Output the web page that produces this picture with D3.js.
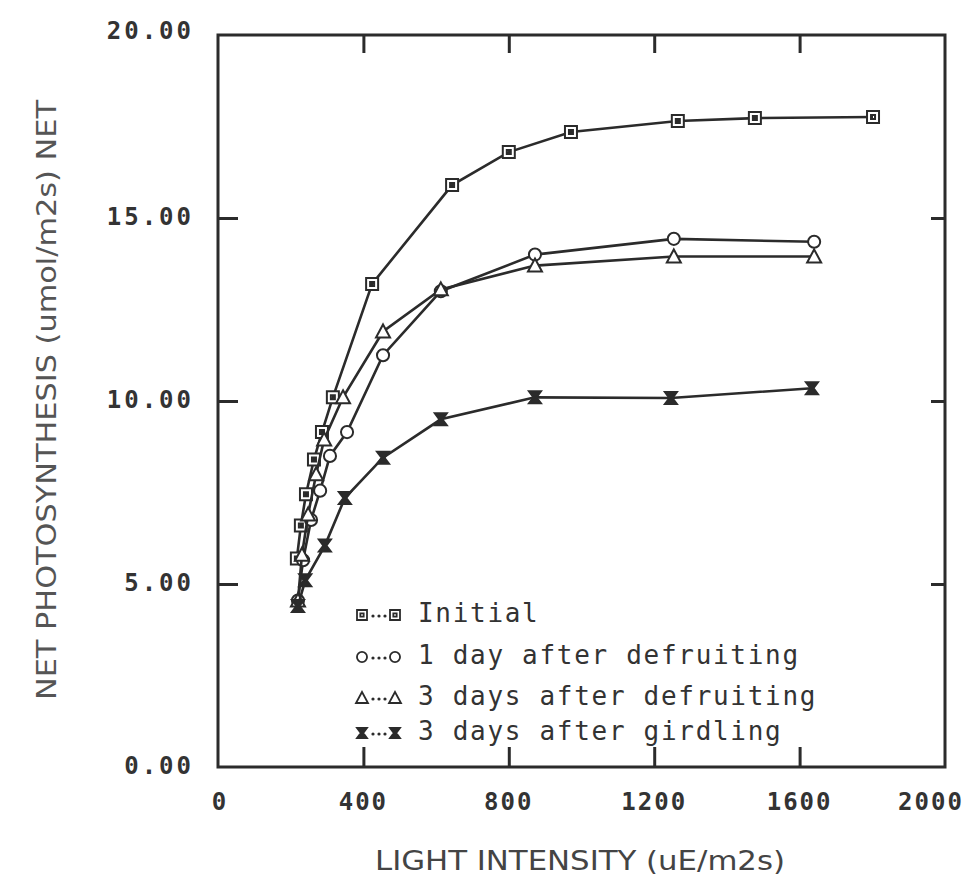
<!DOCTYPE html>
<html><head><meta charset="utf-8">
<script src="https://cdn.jsdelivr.net/npm/d3@7"></script>
<style>
body{margin:0;background:#fff;}
svg{display:block;}
</style></head>
<body>
<svg id="chart" width="967" height="888"></svg>
<script>
// ---- data ----
const seriesNames = ["Initial","1 day after defruiting","3 days after defruiting","3 days after girdling"];
const initialX = [217, 228, 242, 264, 286, 316, 424, 644, 800, 971, 1265, 1477, 1802];
const initialY = [5.7, 6.6, 7.45, 8.4, 9.15, 10.1, 13.2, 15.9, 16.8, 17.35, 17.65, 17.73, 17.76];
const day1X = [220, 234, 256, 281, 308, 355, 454, 613, 872, 1254, 1640];
const day1Y = [4.55, 5.65, 6.75, 7.55, 8.5, 9.15, 11.25, 13.0, 14.0, 14.43, 14.35];
const day3X = [220, 231, 248, 270, 292, 344, 454, 613, 872, 1254, 1640];
const day3Y = [4.55, 5.8, 6.9, 8.0, 8.95, 10.1, 11.9, 13.05, 13.7, 13.95, 13.95];
const girdX = [220, 240, 294, 349, 454, 613, 872, 1246, 1634];
const girdY = [4.4, 5.1, 6.05, 7.35, 8.45, 9.5, 10.1, 10.08, 10.35];
const xTicks = [0, 400, 800, 1200, 1600, 2000];
const yTicks = [0, 5, 10, 15, 20];
const xTickLabels = ["0", "400", "800", "1200", "1600", "2000"];
const yTickLabels = ["0.00", "5.00", "10.00", "15.00", "20.00"];
const xTitle = "LIGHT INTENSITY (uE/m2s)";
const yTitle = "NET PHOTOSYNTHESIS (umol/m2s) NET";
const markers = ["square","circle","triangle","bowtie"];

// ---- layout ----
const svg = d3.select("#chart");
const L = 218, R = 945, T = 35, B = 767;
const x = d3.scaleLinear().domain([0, 2000]).range([L, R]);
const y = d3.scaleLinear().domain([0, 20]).range([B, T]);
const ink = "#2b2b2b";

// frame
svg.append("rect").attr("x", L).attr("y", T).attr("width", R - L).attr("height", B - T)
  .attr("fill", "none").attr("stroke", ink).attr("stroke-width", 3);

// axes with inward ticks
const inner = [5, 10, 15];
const innerX = [400, 800, 1200, 1600];
const gL = svg.append("g").attr("transform", `translate(${L},0)`)
  .call(d3.axisRight(y).tickValues(inner).tickSize(20).tickFormat(""));
const gR = svg.append("g").attr("transform", `translate(${R},0)`)
  .call(d3.axisLeft(y).tickValues(inner).tickSize(14).tickFormat(""));
const gB = svg.append("g").attr("transform", `translate(0,${B})`)
  .call(d3.axisTop(x).tickValues(innerX).tickSize(20).tickFormat(""));
const gT = svg.append("g").attr("transform", `translate(0,${T})`)
  .call(d3.axisBottom(x).tickValues(innerX).tickSize(18).tickFormat(""));
[gL, gR, gB, gT].forEach(g => {
  g.select(".domain").remove();
  g.selectAll(".tick line").attr("stroke", ink).attr("stroke-width", 3);
});

// tick labels
const tickFont = "'DejaVu Sans Mono', monospace";
svg.append("g").selectAll("text").data(yTicks).join("text")
  .attr("x", 194).attr("y", d => y(d) + (d === 20 ? -3 : 0))
  .attr("text-anchor", "end").attr("dominant-baseline", "middle")
  .attr("font-family", tickFont).attr("font-weight", "bold").attr("font-size", 24)
  .attr("letter-spacing", 3)
  .attr("fill", "#333").text((d, i) => yTickLabels[i]);
svg.append("g").selectAll("text").data(xTicks).join("text")
  .attr("x", d => d === 2000 ? x(d) - 14 : x(d) + (d === 0 ? 2 : 0)).attr("y", 810)
  .attr("text-anchor", "middle")
  .attr("font-family", tickFont).attr("font-weight", "bold").attr("font-size", 24)
  .attr("letter-spacing", 2)
  .attr("fill", "#333").text((d, i) => xTickLabels[i]);

// axis titles
const titleFont = "'DejaVu Sans Condensed', 'DejaVu Sans', sans-serif";
svg.append("text").attr("x", 580).attr("y", 870).attr("text-anchor", "middle")
  .attr("font-family", titleFont).attr("font-size", 26).attr("fill", "#444")
  .attr("textLength", 410).attr("lengthAdjust", "spacingAndGlyphs").text(xTitle);
svg.append("text").attr("transform", "translate(56,400) rotate(-90)").attr("text-anchor", "middle")
  .attr("font-family", titleFont).attr("font-size", 26).attr("fill", "#555")
  .attr("textLength", 600).attr("lengthAdjust", "spacingAndGlyphs").text(yTitle);

// markers
function markerPath(type, s) {
  const h = s / 2;
  if (type === "square") return `M${-h},${-h}H${h}V${h}H${-h}Z M${-h/3},${-h/3}H${h/3}V${h/3}H${-h/3}Z`;
  if (type === "circle") return d3.symbol(d3.symbolCircle, s * s * 0.8)();
  if (type === "triangle") return `M0,${-h-1}L${h+1},${h}L${-h-1},${h}Z`;
  return `M${-h},${-h}H${h}L${h/4},0L${h},${h}H${-h}L${-h/4},0Z`;
}

const data = [
  {xs: initialX, ys: initialY},
  {xs: day1X, ys: day1Y},
  {xs: day3X, ys: day3Y},
  {xs: girdX, ys: girdY}
];
const line = d3.line().x(d => x(d[0])).y(d => y(d[1]));
data.forEach((s, i) => {
  const pts = s.xs.map((v, j) => [v, s.ys[j]]);
  svg.append("path").datum(pts).attr("d", line)
    .attr("fill", "none").attr("stroke", ink).attr("stroke-width", 2.6);
  svg.append("g").selectAll("path").data(pts).join("path")
    .attr("transform", d => `translate(${x(d[0])},${y(d[1])})`)
    .attr("d", markerPath(markers[i], 12))
    .attr("fill", markers[i] === "bowtie" ? ink : "#fff")
    .attr("fill-rule", "evenodd")
    .attr("stroke", ink).attr("stroke-width", 2);
});

// legend
const legY = [612, 654, 695, 730];
const legG = svg.append("g");
seriesNames.forEach((name, i) => {
  const yy = legY[i];
  [362, 395].forEach(cx => {
    legG.append("path").attr("transform", `translate(${cx},${yy + 3})`)
      .attr("d", markerPath(markers[i], 10))
      .attr("fill", markers[i] === "bowtie" ? ink : "#fff").attr("fill-rule", "evenodd")
      .attr("stroke", ink).attr("stroke-width", 1.8);
  });
  legG.selectAll(null).data([373, 379, 385]).join("circle")
    .attr("cx", d => d).attr("cy", yy + 4).attr("r", 1.6).attr("fill", ink);
  legG.append("text").attr("x", 418).attr("y", yy + 2)
    .attr("dominant-baseline", "middle")
    .attr("font-family", "'DejaVu Sans Mono', monospace").attr("font-size", 26)
    .attr("letter-spacing", 1.7)
    .attr("fill", "#333").text(name);
});
</script>
</body></html>
